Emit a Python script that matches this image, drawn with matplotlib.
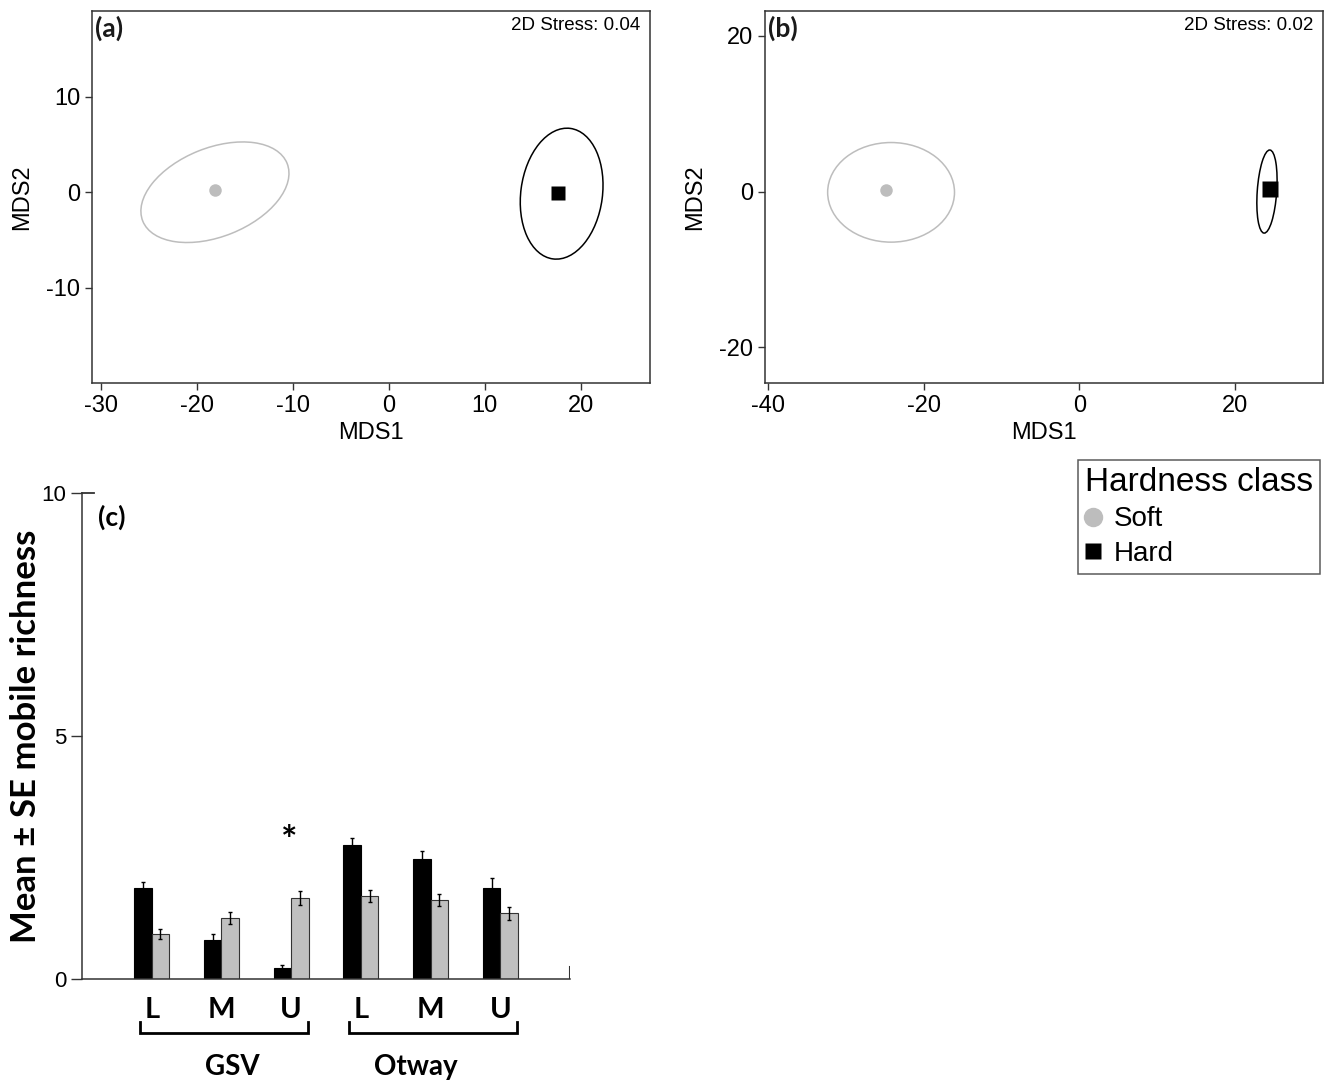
import matplotlib
matplotlib.use("Agg")
import matplotlib.pyplot as plt
from matplotlib.patches import Ellipse
from matplotlib.lines import Line2D
import matplotlib.transforms as mtransforms
import numpy as np

plt.rcParams['font.family'] = ['Liberation Sans', 'DejaVu Sans']
plt.rcParams['axes.unicode_minus'] = False

# nMDS centroids and ellipses (centre x, centre y, width, height, angle)
classes = ['Soft', 'Hard']
class_colors = ['#bdbdbd', 'black']
class_markers = ['o', 's']

a_points_x = [-18.1, 17.6]
a_points_y = [0.2, -0.1]
a_ell_cx = [-18.1, 18.0]
a_ell_cy = [0.0, -0.15]
a_ell_w = [16.2, 13.8]
a_ell_h = [9.3, 8.5]
a_ell_ang = [22, 82.5]
a_stress = '2D Stress: 0.04'

b_points_x = [-24.8, 24.5]
b_points_y = [0.2, 0.3]
b_ell_cx = [-24.2, 24.1]
b_ell_cy = [-0.1, 0.0]
b_ell_w = [16.3, 2.5]
b_ell_h = [12.8, 10.7]
b_ell_ang = [0, -4]
b_stress = '2D Stress: 0.02'

# bar chart of mobile richness
regions = ['GSV', 'Otway']
region_label_x = [1.16, 3.79]
zones = ['L', 'M', 'U', 'L', 'M', 'U']
hard_mean = [1.87, 0.80, 0.22, 2.75, 2.47, 1.87]
hard_se = [0.12, 0.12, 0.06, 0.16, 0.17, 0.20]
soft_mean = [0.93, 1.25, 1.67, 1.71, 1.63, 1.35]
soft_se = [0.10, 0.12, 0.15, 0.12, 0.12, 0.14]
signif = [2]

W, H = 1334, 1084
fig = plt.figure(figsize=(W / 100, H / 100), dpi=100)


def mds_panel(rect, label, stress, px, py, cx, cy, ew, eh, ang, xlim, ylim, xt, yt):
    ax = fig.add_axes(rect)
    for i in range(len(classes)):
        ax.add_patch(Ellipse((cx[i], cy[i]), ew[i], eh[i], angle=ang[i],
                             fill=False, edgecolor=class_colors[i], lw=1.1))
    ax.plot(px[0], py[0], 'o', color=class_colors[0], ms=9, mec='none')
    ax.plot(px[1], py[1], 's', color=class_colors[1], ms=10 if label == '(a)' else 12, mec='none')
    ax.set_xlim(xlim)
    ax.set_ylim(ylim)
    ax.set_xticks(xt)
    ax.set_yticks(yt)
    ax.tick_params(labelsize=17, length=5, width=1, color='#333333')
    for s in ax.spines.values():
        s.set_color('#333333')
        s.set_linewidth(1.1)
    ax.set_xlabel('MDS1', fontsize=17)
    ax.set_ylabel('MDS2', fontsize=17)
    ax.xaxis.set_label_coords(0.5, -0.105)
    ax.yaxis.set_label_coords(-0.105, 0.5)
    ax.text(0.006, 0.988, label, transform=ax.transAxes, ha='left', va='top',
            fontsize=19, fontweight='bold', family=['Lato', 'DejaVu Sans'], color='#1a1a1a')
    ax.text(0.982, 0.985, stress, transform=ax.transAxes, ha='right', va='top', fontsize=13.5)
    return ax


mds_panel([92 / W, 1 - 383 / H, 558 / W, 372 / H], '(a)', a_stress,
          a_points_x, a_points_y, a_ell_cx, a_ell_cy, a_ell_w, a_ell_h, a_ell_ang,
          (-30.9, 27.2), (-20.0, 19.0), [-30, -20, -10, 0, 10, 20], [-10, 0, 10])
mds_panel([765 / W, 1 - 383 / H, 558 / W, 372 / H], '(b)', b_stress,
          b_points_x, b_points_y, b_ell_cx, b_ell_cy, b_ell_w, b_ell_h, b_ell_ang,
          (-40.4, 31.3), (-24.6, 23.2), [-40, -20, 0, 20], [-20, 0, 20])

# legend
handles = [Line2D([], [], ls='none', marker=class_markers[i], color=class_colors[i],
                  mec='none', ms=14 if i == 0 else 12) for i in range(len(classes))]
leg = fig.legend(handles, classes, title='Hardness class', loc='upper right',
                 bbox_to_anchor=(1320 / W, 1 - 460 / H), fontsize=20, title_fontsize=24,
                 frameon=True, fancybox=False, handlelength=0.6, handletextpad=0.45,
                 borderpad=0.25, labelspacing=0.3, borderaxespad=0)
leg._legend_box.align = 'left'
leg.get_frame().set_edgecolor('#333333')
leg.get_frame().set_linewidth(1.1)

# panel (c)
bfont = ['Lato', 'DejaVu Sans']
ax = fig.add_axes([82 / W, 1 - 979 / H, 488 / W, 486 / H])
x = np.arange(len(zones))
bw = 0.25
ax.bar(x - bw / 2, hard_mean, bw, color='black', edgecolor='black', lw=0.8)
ax.bar(x + bw / 2, soft_mean, bw, color='#c0c0c0', edgecolor='#333333', lw=0.8)
ax.errorbar(x - bw / 2, hard_mean, yerr=hard_se, fmt='none', ecolor='black', elinewidth=1, capsize=1.5)
ax.errorbar(x + bw / 2, soft_mean, yerr=soft_se, fmt='none', ecolor='black', elinewidth=1, capsize=1.5)
for i in signif:
    ax.text(x[i] - 0.03, max(hard_mean[i], soft_mean[i]) + 1.15, '*', ha='center', va='center',
            fontsize=28, fontweight='bold', family=bfont)
ax.set_xlim(-1, 6)
ax.set_ylim(0, 10)
ax.set_yticks([0, 5, 10])
ax.set_xticks([])
ax.spines['top'].set_visible(False)
ax.spines['right'].set_visible(False)
for s in ['left', 'bottom']:
    ax.spines[s].set_color('#333333')
    ax.spines[s].set_linewidth(1.1)
ax.axvline(6, ymax=0.025, color='#333333', lw=1.5)
ax.axhline(10, xmax=0.025, color='#333333', lw=1.3, clip_on=False)
ax.tick_params(axis='y', labelsize=16, length=8, width=1, color='#333333')
ax.set_ylabel('Mean ± SE mobile richness', fontsize=25, fontweight='bold', family=bfont)
ax.yaxis.set_label_coords(-0.082, 0.5)
ax.text(0.06, 0.95, '(c)', transform=ax.transAxes, ha='center', va='center',
        fontsize=19, fontweight='bold', family=bfont)

trans = mtransforms.blended_transform_factory(ax.transData, ax.transAxes)
for i, z in enumerate(zones):
    ax.text(x[i], -0.064, z, transform=trans, ha='center', va='center',
            fontsize=21, fontweight='bold', family=bfont)
for g, name in enumerate(regions):
    x0 = x[3 * g] - 0.17
    x1 = x[3 * g + 2] + 0.24
    ax.plot([x0, x0, x1, x1], [-0.088, -0.111, -0.111, -0.088], transform=trans,
            color='black', lw=2, clip_on=False, solid_joinstyle='miter')
    ax.text(region_label_x[g], -0.181, name, transform=trans, ha='center', va='center',
            fontsize=20, fontweight='bold', family=bfont)

fig.savefig('out.png', dpi=100)
